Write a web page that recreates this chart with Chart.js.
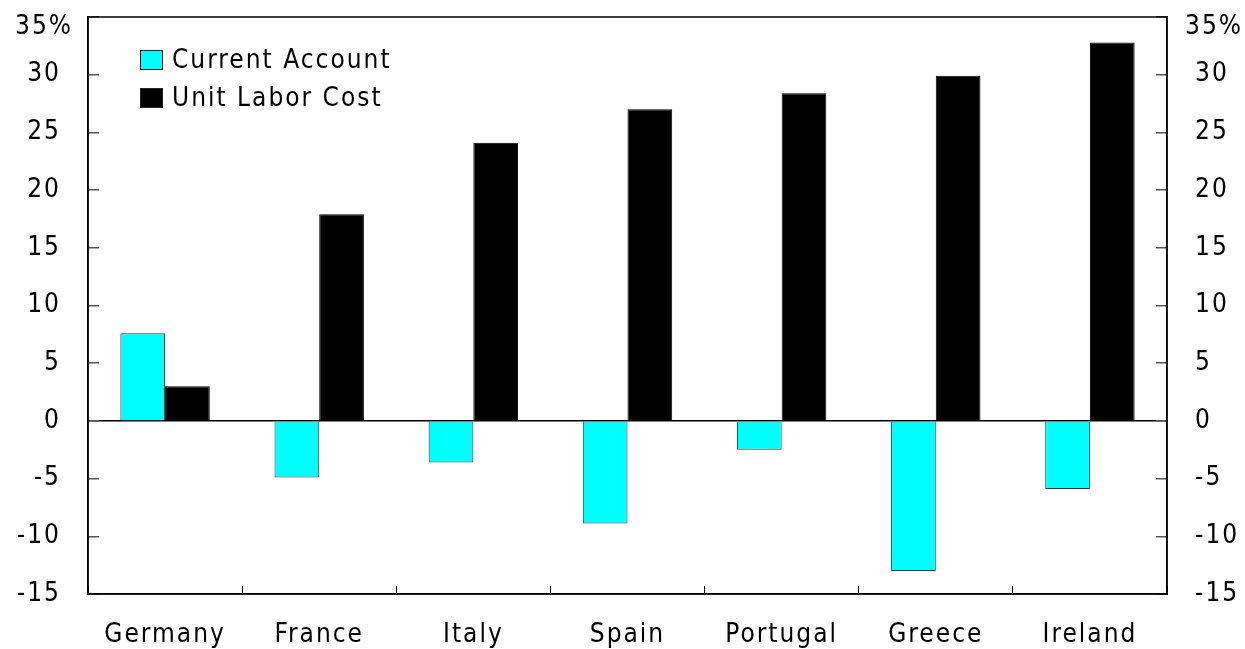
<!DOCTYPE html>
<html>
<head>
<meta charset="utf-8">
<script src="https://cdn.jsdelivr.net/npm/chart.js@4"></script>
<style>
  html, body { margin: 0; padding: 0; background: #fff; }
  #wrap { width: 1245px; height: 649px; }
</style>
</head>
<body>
<div id="wrap"><canvas id="barchart"></canvas></div>
<script>
const categories = ['Germany', 'France', 'Italy', 'Spain', 'Portugal', 'Greece', 'Ireland'];
const currentAccount = [7.6, -4.9, -3.6, -8.9, -2.5, -13.0, -5.9];
const unitLaborCost = [3.0, 17.9, 24.1, 27.0, 28.4, 29.9, 32.8];
const seriesNames = ['Current Account', 'Unit Labor Cost'];
const topLabel = '35%';

const FONT = "'DejaVu Sans Condensed', 'Liberation Sans', sans-serif";
const SPACE = '2px';
const tickFont = { family: FONT, size: 26 };

// top tick gets drawn by hand (it sits lower than the tick, like the original)
function tickText(v) {
  return v === 35 ? '' : v;
}

// spaced-out lettering like the original
const spacing = {
  id: 'spacing',
  beforeInit(chart) { chart.ctx.letterSpacing = SPACE; },
  beforeDraw(chart) { chart.ctx.letterSpacing = SPACE; }
};

// box round the plot + legend inside it
const frame = {
  id: 'frame',
  afterDraw(chart) {
    const { ctx, chartArea: a } = chart;
    ctx.save();
    ctx.strokeStyle = '#000';
    ctx.lineWidth = 1.5;
    ctx.strokeRect(a.left, a.top, a.right - a.left, a.bottom - a.top);

    ctx.font = "26px " + FONT;
    ctx.letterSpacing = SPACE;
    ctx.textBaseline = 'middle';
    ctx.textAlign = 'left';
    ctx.fillStyle = '#000';
    const yTop = chart.scales.y.getPixelForValue(35) + 10;
    ctx.fillText(topLabel, 15, yTop);
    ctx.fillText(topLabel, 1185, yTop);

    chart.data.datasets.forEach((ds, i) => {
      const y = 60 + i * 38;
      ctx.fillStyle = ds.backgroundColor;
      ctx.fillRect(140, y - 10, 23, 20);
      ctx.strokeStyle = '#222';
      ctx.lineWidth = 1;
      ctx.strokeRect(140.5, y - 9.5, 22, 19);
      ctx.fillStyle = '#000';
      ctx.fillText(ds.label, 172, y + 1);
    });
    ctx.restore();
  }
};

function noPadY(s) { s.paddingTop = 0; s.paddingBottom = 0; }

const ctx = document.getElementById('barchart').getContext('2d');
const barchart = new Chart(ctx, {
  type: 'bar',
  data: {
    labels: categories,
    datasets: [{
      label: seriesNames[0],
      data: currentAccount,
      backgroundColor: '#00ffff',
      borderColor: '#333',
      borderWidth: 1,
      categoryPercentage: 0.58,
      barPercentage: 1
    }, {
      label: seriesNames[1],
      data: unitLaborCost,
      backgroundColor: '#000000',
      borderColor: '#000',
      borderWidth: 1,
      categoryPercentage: 0.58,
      barPercentage: 1
    }]
  },
  options: {
    responsive: true,
    maintainAspectRatio: false,
    animation: false,
    layout: { padding: { top: 17, left: 0, right: 0, bottom: 0 } },
    plugins: {
      legend: { display: false },
      tooltip: { enabled: false }
    },
    scales: {
      x: {
        grid: { drawOnChartArea: false, tickLength: -8, tickColor: '#000', lineWidth: 1 },
        border: { display: true, color: '#000', width: 1.5 },
        ticks: { font: tickFont, color: '#000', padding: 34, maxRotation: 0 },
        afterFit(s) { s.height = 55; s.paddingLeft = 0; s.paddingRight = 0; }
      },
      y: {
        position: 'left',
        min: -15, max: 35,
        ticks: { stepSize: 5, font: tickFont, color: '#000', padding: 38, callback: tickText },
        grid: {
          color: c => c.tick && c.tick.value === 0 ? '#000' : 'rgba(0,0,0,0)',
          tickColor: '#555', tickLength: -11, lineWidth: 1.5
        },
        border: { display: true, color: '#000', width: 1.5 },
        afterFit(s) { s.width = 88; noPadY(s); }
      },
      y2: {
        position: 'right',
        min: -15, max: 35,
        ticks: { stepSize: 5, font: tickFont, color: '#000', padding: 39, callback: tickText },
        grid: { drawOnChartArea: false, tickColor: '#555', tickLength: -11, lineWidth: 1.5 },
        border: { display: true, color: '#000', width: 1.5 },
        afterFit(s) { s.width = 78; noPadY(s); }
      }
    }
  },
  plugins: [spacing, frame]
});
</script>
</body>
</html>
